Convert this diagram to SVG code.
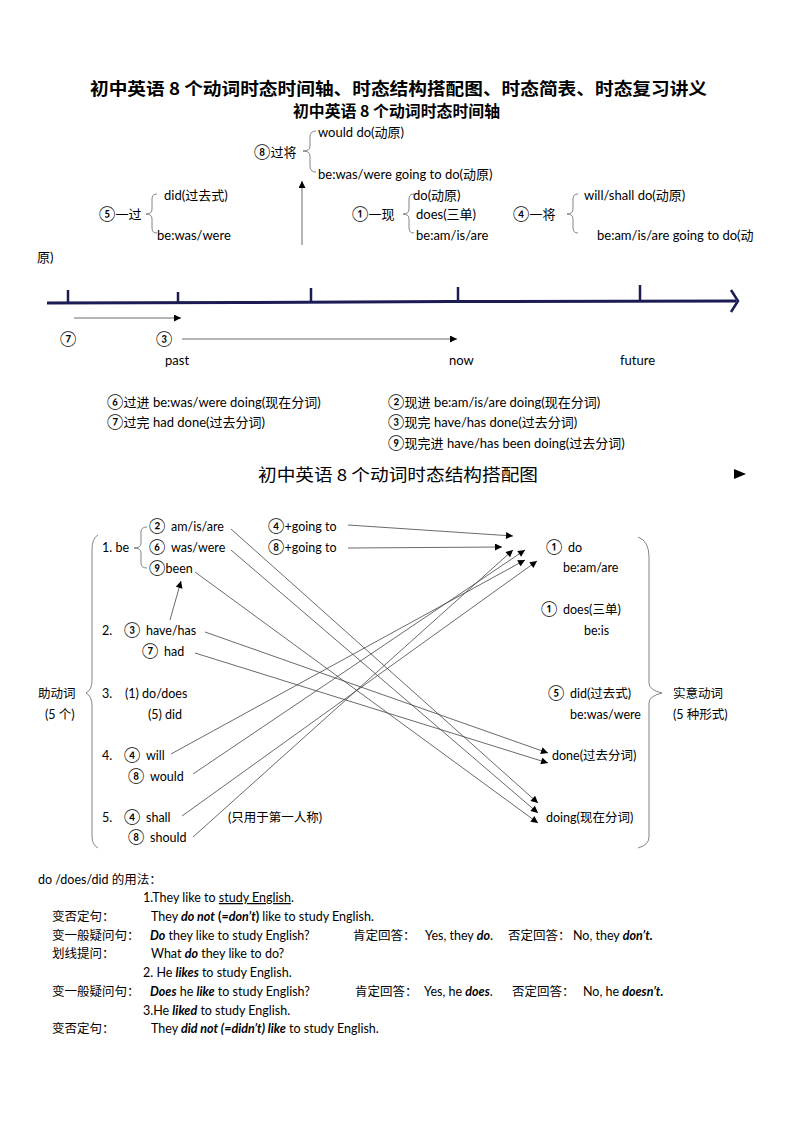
<svg xmlns="http://www.w3.org/2000/svg" width="794" height="1123" viewBox="0 0 794 1123">
<style>
text { font-family: Lato, "Noto Sans CJK SC", sans-serif; font-size: 12.5px; fill: #000; }
.h1 { font-family: "Noto Sans CJK SC", sans-serif; font-weight: bold; font-size: 17px; }
.h2 { font-family: "Noto Sans CJK SC", sans-serif; font-weight: bold; font-size: 15.5px; }
.h3 { font-family: "Noto Sans CJK SC", sans-serif; font-size: 16.5px; }
.tl { font-size: 13px; }
.c { font-size: 15px; }
.b { font-weight: bold; }
.bi { font-weight: bold; font-style: italic; }
.brace { fill: none; stroke: #666; stroke-width: 0.8; }
.conn { fill: none; stroke: #444; stroke-width: 0.8; marker-end: url(#ah); }
.axis { fill: none; stroke: #1c1c54; stroke-width: 3; }
.tick { stroke: #1c1c54; stroke-width: 2.5; }
</style>
<defs>
<marker id="ah" viewBox="0 0 10 10" refX="10" refY="5" markerWidth="8" markerHeight="7" markerUnits="userSpaceOnUse" orient="auto">
<path d="M0,0 L10,5 L0,10 z" fill="#000"/>
</marker>
</defs>
<rect width="794" height="1123" fill="#fff"/>

<g id="titles">
<text class="h1" x="90" y="95" textLength="617" lengthAdjust="spacingAndGlyphs">初中英语 8 个动词时态时间轴、时态结构搭配图、时态简表、时态复习讲义</text>
<text class="h2" x="293" y="117" textLength="207" lengthAdjust="spacingAndGlyphs">初中英语 8 个动词时态时间轴</text>
</g>

<g id="timeline-forms">
<g id="past-future">
<text class="tl" x="254" y="157"><tspan class="c">⑧</tspan>过将</text>
<path class="brace" d="M316,131 Q310,131 310,137 L310,146 Q310,151 303,151 Q310,151 310,156 L310,166 Q310,172 316,172"/>
<text class="tl" x="318" y="137">would do(动原)</text>
<text class="tl" x="318" y="179">be:was/were going to do(动原)</text>
</g>
<g id="simple-past">
<text class="tl" x="99" y="219"><tspan class="c">⑤</tspan>一过</text>
<path class="brace" d="M157,194 Q152,194 152,199 L152,209 Q152,214 146,214 Q152,214 152,219 L152,228 Q152,233 157,233"/>
<text class="tl" x="164" y="200">did(过去式)</text>
<text class="tl" x="157" y="240">be:was/were</text>
</g>
<g id="simple-present">
<text class="tl" x="352" y="219"><tspan class="c">①</tspan>一现</text>
<path class="brace" d="M414,194 Q409,194 409,199 L409,209 Q409,214 403,214 Q409,214 409,219 L409,228 Q409,233 414,233"/>
<text class="tl" x="413" y="200">do(动原)</text>
<text class="tl" x="416" y="219">does(三单)</text>
<text class="tl" x="416" y="240">be:am/is/are</text>
</g>
<g id="simple-future">
<text class="tl" x="513" y="219"><tspan class="c">④</tspan>一将</text>
<path class="brace" d="M578,194 Q573,194 573,199 L573,209 Q573,214 567,214 Q573,214 573,219 L573,228 Q573,233 578,233"/>
<text class="tl" x="584" y="200">will/shall do(动原)</text>
<text class="tl" x="597" y="240">be:am/is/are going to do(动</text>
<text class="tl" x="37" y="262">原)</text>
</g>
</g>

<g id="axis">
<path class="axis" d="M47,303 L240,302.5 L450,301.5 L736,301"/>
<path d="M731,290 L738,301 L731,312" fill="none" stroke="#1c1c54" stroke-width="2.5"/>
<line class="tick" x1="68" y1="290" x2="68" y2="303"/>
<line class="tick" x1="178" y1="292" x2="178" y2="303"/>
<line class="tick" x1="311" y1="288" x2="311" y2="302"/>
<line class="tick" x1="458" y1="287" x2="458" y2="302"/>
<line class="tick" x1="640" y1="285" x2="640" y2="301"/>
<text class="tl" x="60" y="344"><tspan class="c">⑦</tspan></text>
<text class="tl" x="156" y="344"><tspan class="c">③</tspan></text>
<text class="tl" x="165" y="365">past</text>
<text class="tl" x="449" y="365">now</text>
<text class="tl" x="620" y="365">future</text>
</g>

<g id="timeline-connectors">
<line class="conn" x1="302" y1="245" x2="302" y2="181"/>
<line class="conn" x1="74" y1="318" x2="181" y2="318"/>
<line class="conn" x1="182" y1="339" x2="457" y2="339"/>
</g>

<g id="tense-list">
<text class="tl" x="107" y="407"><tspan class="c">⑥</tspan>过进 be:was/were doing(现在分词)</text>
<text class="tl" x="107" y="427"><tspan class="c">⑦</tspan>过完 had done(过去分词)</text>
<text class="tl" x="388" y="407"><tspan class="c">②</tspan>现进 be:am/is/are doing(现在分词)</text>
<text class="tl" x="388" y="427"><tspan class="c">③</tspan>现完 have/has done(过去分词)</text>
<text class="tl" x="388" y="448"><tspan class="c">⑨</tspan>现完进 have/has been doing(过去分词)</text>
</g>

<g id="structure-title">
<text class="h3" x="258" y="481" textLength="280" lengthAdjust="spacingAndGlyphs">初中英语 8 个动词时态结构搭配图</text>
<polygon points="734,469 746,474 734,479" fill="#000"/>
</g>

<g id="auxiliaries">
<path class="brace" d="M98,535 Q92,538 92,550 L92,680 Q92,690 86,693 Q92,696 92,706 L92,836 Q92,845 98,848"/>
<text x="38" y="698">助动词</text>
<text x="45" y="719">(5 个)</text>
<g id="aux-be">
<text x="102" y="552">1. be</text>
<path class="brace" d="M147,527 Q141,527 141,532 L141,543 Q141,548 134,548 Q141,548 141,553 L141,563 Q141,568 147,568"/>
<text x="149" y="531"><tspan class="c">②</tspan></text><text x="171" y="531">am/is/are</text>
<text x="149" y="552"><tspan class="c">⑥</tspan></text><text x="171" y="552">was/were</text>
<text x="149" y="573"><tspan class="c">⑨</tspan>been</text>
<text x="268" y="531"><tspan class="c">④</tspan>+going to</text>
<text x="268" y="552"><tspan class="c">⑧</tspan>+going to</text>
</g>
<g id="aux-have">
<text x="102" y="635">2.</text>
<text x="124" y="635"><tspan class="c">③</tspan></text><text x="146" y="635">have/has</text>
<text x="142" y="656"><tspan class="c">⑦</tspan></text><text x="164" y="656">had</text>
</g>
<g id="aux-do">
<text x="102" y="698">3.</text>
<text x="125" y="698">(1) do/does</text>
<text x="148" y="719">(5) did</text>
</g>
<g id="aux-will">
<text x="102" y="760">4.</text>
<text x="124" y="760"><tspan class="c">④</tspan></text><text x="146" y="760">will</text>
<text x="128" y="781"><tspan class="c">⑧</tspan></text><text x="150" y="781">would</text>
</g>
<g id="aux-shall">
<text x="102" y="822">5.</text>
<text x="124" y="822"><tspan class="c">④</tspan></text><text x="146" y="822">shall</text>
<text x="128" y="842"><tspan class="c">⑧</tspan></text><text x="150" y="842">should</text>
<text x="228" y="822">(只用于第一人称)</text>
</g>
</g>

<g id="main-verbs">
<path class="brace" d="M638,537 Q649,541 649,557 L649,683 Q649,690 662,693 Q649,696 649,703 L649,837 Q649,845 638,848"/>
<text x="673" y="698">实意动词</text>
<text x="673" y="719">(5 种形式)</text>
<g id="mv-do">
<text x="546" y="552"><tspan class="c">①</tspan></text><text x="568" y="552">do</text>
<text x="563" y="572">be:am/are</text>
</g>
<g id="mv-does">
<text x="541" y="614"><tspan class="c">①</tspan></text><text x="563" y="614">does(三单)</text>
<text x="584" y="635">be:is</text>
</g>
<g id="mv-did">
<text x="548" y="698"><tspan class="c">⑤</tspan></text><text x="570" y="698">did(过去式)</text>
<text x="570" y="719">be:was/were</text>
</g>
<g id="mv-done">
<text x="552" y="760">done(过去分词)</text>
</g>
<g id="mv-doing">
<text x="546" y="822">doing(现在分词)</text>
</g>
</g>

<g id="connectors">
<line class="conn" x1="231" y1="529" x2="538" y2="803"/>
<line class="conn" x1="231" y1="550" x2="538" y2="813"/>
<line class="conn" x1="195" y1="572" x2="538" y2="823"/>
<line class="conn" x1="205" y1="632" x2="548" y2="753"/>
<line class="conn" x1="195" y1="653" x2="548" y2="763"/>
<line class="conn" x1="348" y1="525" x2="513" y2="536"/>
<line class="conn" x1="348" y1="548" x2="502" y2="547"/>
<line class="conn" x1="171" y1="754" x2="525" y2="560"/>
<line class="conn" x1="193" y1="774" x2="525" y2="550"/>
<line class="conn" x1="182" y1="816" x2="537" y2="561"/>
<line class="conn" x1="193" y1="837" x2="513" y2="550"/>
<line class="conn" x1="170" y1="620" x2="181" y2="581"/>
</g>

<g id="usage">
<text x="38" y="884">do /does/did 的用法：</text>
<text x="143" y="902">1.They like to <tspan text-decoration="underline">study English</tspan>.</text>
<text x="52" y="921">变否定句：</text>
<text x="151" y="921">They <tspan class="bi">do not</tspan> <tspan class="b">(=<tspan font-style="italic">don’t</tspan>)</tspan> like to study English.</text>
<text x="52" y="940">变一般疑问句：</text>
<text x="150" y="940"><tspan class="bi">Do</tspan> they like to study English?</text>
<text x="353" y="940">肯定回答：</text>
<text x="425" y="940">Yes, they <tspan class="bi">do</tspan>.</text>
<text x="508" y="940">否定回答：</text>
<text x="573" y="940">No, they <tspan class="bi">don’t.</tspan></text>
<text x="52" y="958">划线提问：</text>
<text x="151" y="958">What <tspan class="bi">do</tspan> they like to do?</text>
<text x="143" y="977">2. He <tspan class="bi">likes</tspan> to study English.</text>
<text x="52" y="996">变一般疑问句：</text>
<text x="150" y="996"><tspan class="bi">Does</tspan> he <tspan class="bi">like</tspan> to study English?</text>
<text x="355" y="996">肯定回答：</text>
<text x="424" y="996">Yes, he <tspan class="bi">does</tspan>.</text>
<text x="512" y="996">否定回答：</text>
<text x="583" y="996">No, he <tspan class="bi">doesn’t.</tspan></text>
<text x="143" y="1015">3.He <tspan class="bi">liked</tspan> to study English.</text>
<text x="52" y="1033">变否定句：</text>
<text x="151" y="1033">They <tspan class="bi">did not (=didn’t) like</tspan> to study English.</text>
</g>
</svg>
